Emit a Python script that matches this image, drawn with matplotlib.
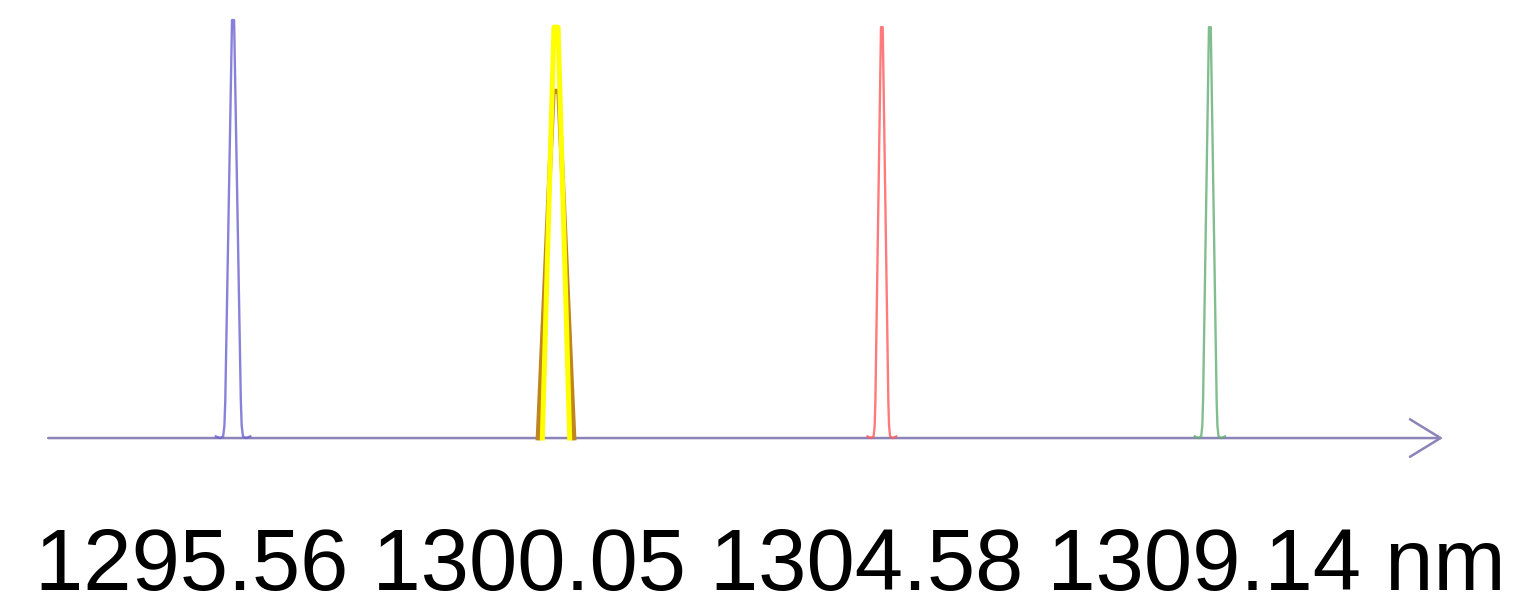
import numpy as np
import matplotlib
matplotlib.use("Agg")
import matplotlib.pyplot as plt

# channel centre wavelengths (nm) and relative peak heights
channels_nm = [1295.56, 1300.05, 1304.58, 1309.14]
peak_heights = [1.0, 0.983, 0.983, 0.983]
base_halfwidths = [0.12, 0.19, 0.10, 0.105]
channel_colors = ["#6b62d0", "#ffff00", "#ff5a5a", "#63ad73"]
channel_widths = [1.7, 3.6, 1.7, 1.7]
has_feet = [True, False, True, True]

# broader, lower peak sitting under the 1300.05 channel
under_nm = 1300.05
under_height = 0.83
under_halfwidth = 0.25
under_color = "#c0851e"

# peak outline, offsets in units of the base half-width
feet_u = [-2.0, -1.5, -1.15, -1.0, -0.9, -0.12, 0.0, 0.12, 0.9, 1.0, 1.15, 1.5, 2.0]
feet_v = [0.004, 0.0, 0.004, 0.03, 0.09, 1.0, 1.0, 1.0, 0.09, 0.03, 0.004, 0.0, 0.004]
plain_u = [-1.0, -0.15, 0.0, 0.15, 1.0]
plain_v = [0.0, 1.0, 1.0, 1.0, 0.0]

label_text = "1295.56 1300.05 1304.58 1309.14 nm"

fig = plt.figure(figsize=(15.17, 6.09), dpi=100)
ax = fig.add_axes([0, 0, 1, 1])
ax.set_xlim(1292.32, 1313.41)
ax.set_ylim(-0.409, 1.048)
ax.axis("off")

# wavelength axis with open arrow head
ax.annotate("", xy=(1312.38, 0), xytext=(1292.99, 0),
            arrowprops=dict(arrowstyle="->,head_length=2.2,head_width=1.35",
                            mutation_scale=10, color="#8c84b8", lw=1.8,
                            shrinkA=0, shrinkB=0), zorder=1)

u = np.array(plain_u)
ax.plot(under_nm + u * under_halfwidth, np.array(plain_v) * under_height,
        color=under_color, lw=3.4, zorder=2)

for c, h, w, col, lw, feet in zip(channels_nm, peak_heights, base_halfwidths,
                                  channel_colors, channel_widths, has_feet):
    if feet:
        uu, vv = np.array(feet_u), np.array(feet_v)
    else:
        uu, vv = np.array(plain_u), np.array(plain_v)
    ax.plot(c + uu * w, vv * h, color=col, lw=lw, zorder=3,
            alpha=0.8 if feet else 1.0)

fig.text(770 / 1517, 19 / 609, label_text, ha="center", va="baseline",
         fontsize=62.5, family=["Liberation Sans", "DejaVu Sans"], color="black")

fig.savefig("out.png", dpi=100)
